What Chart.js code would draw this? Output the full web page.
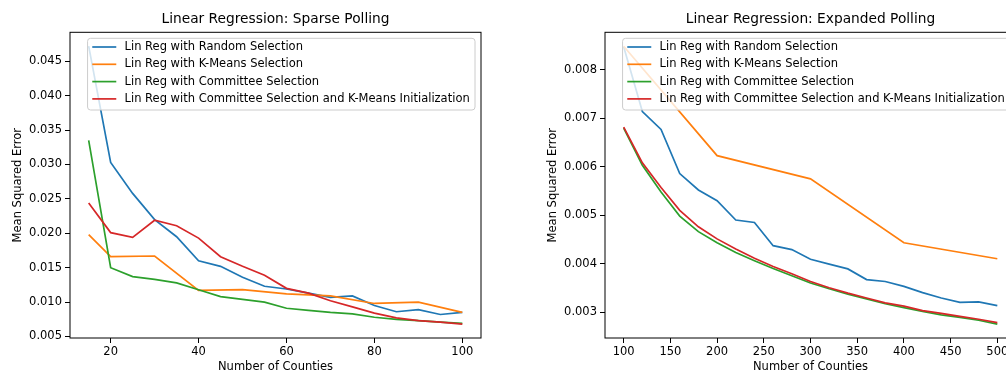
<!DOCTYPE html>
<html>
<head>
<meta charset="utf-8">
<script src="https://cdn.jsdelivr.net/npm/chart.js@4/dist/chart.umd.min.js"></script>
<style>
html, body { margin: 0; padding: 0; background: #fff; overflow: hidden; width: 1006px; height: 371px; }
canvas { position: absolute; top: 0; }
#sparse { left: 0; }
#expanded { left: 535px; }
</style>
</head>
<body>
<canvas id="sparse" width="490" height="380"></canvas>
<canvas id="expanded" width="490" height="380"></canvas>
<script>
/*
 * Data
 */

const seriesLabels = [
    "Lin Reg with Random Selection",
    "Lin Reg with K-Means Selection",
    "Lin Reg with Committee Selection",
    "Lin Reg with Committee Selection and K-Means Initialization"
]
const seriesColors = ["#1f77b4", "#ff7f0e", "#2ca02c", "#d62728"]

// sparse polling (left)
const sparseCounties = [15, 20, 25, 30, 35, 40, 45, 50, 55, 60, 65, 70, 75, 80, 85, 90, 95, 100]
const sparseKMeansCounties = [15, 20, 30, 40, 50, 60, 70, 80, 90, 100]
const sparseRandom = [0.0472, 0.0303, 0.0258, 0.0220, 0.0195, 0.0160, 0.0152, 0.0136, 0.0123, 0.0119, 0.0113, 0.0107, 0.0109, 0.0095, 0.0086, 0.0089, 0.0082, 0.0085]
const sparseKMeans = [0.0198, 0.0166, 0.0167, 0.0117, 0.0118, 0.0112, 0.0109, 0.0098, 0.0100, 0.0085]
const sparseCommittee = [0.0335, 0.0150, 0.0137, 0.0133, 0.0128, 0.0118, 0.0108, 0.0104, 0.0100, 0.0091, 0.0088, 0.0085, 0.0083, 0.0078, 0.0075, 0.0073, 0.0071, 0.0069]
const sparseCommitteeKM = [0.0244, 0.0201, 0.0194, 0.0219, 0.0211, 0.0193, 0.0166, 0.0152, 0.0139, 0.0120, 0.0113, 0.0102, 0.0093, 0.0084, 0.0077, 0.0073, 0.0071, 0.0068]

// expanded polling (right)
const expandedCounties = [100, 120, 140, 160, 180, 200, 220, 240, 260, 280, 300, 320, 340, 360, 380, 400, 420, 440, 460, 480, 500]
const expandedKMeansCounties = [100, 200, 300, 400, 500]
const expandedRandom = [0.00848, 0.00714, 0.00677, 0.00586, 0.00552, 0.00530, 0.00490, 0.00485, 0.00437, 0.00429, 0.00409, 0.00399, 0.00389, 0.00367, 0.00363, 0.00353, 0.00340, 0.00329, 0.00320, 0.00321, 0.00313]
const expandedKMeans = [0.00849, 0.00623, 0.00575, 0.00443, 0.00410]
const expandedCommittee = [0.00680, 0.00603, 0.00548, 0.00498, 0.00466, 0.00443, 0.00423, 0.00406, 0.00390, 0.00375, 0.00360, 0.00348, 0.00337, 0.00327, 0.00317, 0.00309, 0.00301, 0.00294, 0.00289, 0.00283, 0.00275]
const expandedCommitteeKM = [0.00682, 0.00608, 0.00557, 0.00510, 0.00476, 0.00451, 0.00430, 0.00411, 0.00394, 0.00379, 0.00363, 0.00350, 0.00339, 0.00329, 0.00319, 0.00312, 0.00303, 0.00297, 0.00291, 0.00285, 0.00278]

Chart.defaults.font.family = '"DejaVu Sans", sans-serif'
Chart.defaults.color = "#000"

/*
 * Helpers
 */

function points(xs, ys) {
    return xs.map((x, i) => ({ x: x, y: ys[i] }))
}

function line(i, xs, ys) {
    return {
        label: seriesLabels[i],
        data: points(xs, ys),
        borderColor: seriesColors[i],
        backgroundColor: seriesColors[i],
        borderWidth: 1.7,
        pointRadius: 0,
        tension: 0,
        fill: false,
        order: 4 - i
    }
}

// matplotlib style 5% margins around the data
function padded(values) {
    let lo = Math.min(...values), hi = Math.max(...values)
    let pad = (hi - lo) * 0.05
    return [lo - pad, hi + pad]
}

// black box around the plot area
const frame = {
    id: "frame",
    afterDatasetsDraw(chart) {
        const ctx = chart.ctx, a = chart.chartArea
        ctx.save()
        ctx.strokeStyle = "#000"
        ctx.lineWidth = 1
        ctx.strokeRect(a.left, a.top, a.width, a.height)
        ctx.restore()
    }
}

// legend inside the plot, upper right, like matplotlib
const boxLegend = {
    id: "boxLegend",
    afterDraw(chart) {
        const ctx = chart.ctx, a = chart.chartArea
        const sets = chart.data.datasets
        ctx.save()
        ctx.font = '11.5px "DejaVu Sans"'
        let textW = Math.max(...sets.map(d => ctx.measureText(d.label).width))
        let w = 5 + 24 + 8.3 + textW + 5, h = 71.7
        let x = a.right - 6 - w, y = a.top + 6
        ctx.beginPath()
        ctx.roundRect(x, y, w, h, 3)
        ctx.fillStyle = "rgba(255,255,255,0.8)"
        ctx.fill()
        ctx.strokeStyle = "#cccccc"
        ctx.lineWidth = 1
        ctx.stroke()
        sets.forEach((d, i) => {
            let ry = y + 8.7 + i * 17.3
            ctx.beginPath()
            ctx.moveTo(x + 4.7, ry)
            ctx.lineTo(x + 28.7, ry)
            ctx.strokeStyle = d.borderColor
            ctx.lineWidth = 1.7
            ctx.stroke()
            ctx.fillStyle = "#000"
            ctx.textBaseline = "middle"
            ctx.textAlign = "left"
            ctx.fillText(d.label, x + 37, ry)
        })
        ctx.restore()
    }
}

function makeOptions(title, xs, ys, xStep, yStep) {
    let xr = padded(xs), yr = padded(ys)
    return {
        responsive: false,
        animation: false,
        layout: { padding: { left: 0, right: 9, top: 0, bottom: 0 } },
        plugins: {
            legend: { display: false },
            tooltip: { enabled: false },
            title: {
                display: true,
                text: title,
                fullSize: false,
                color: "#000",
                font: { size: 13.75, weight: "normal" },
                padding: { top: 10.75, bottom: 5.05 }
            }
        },
        scales: {
            x: {
                type: "linear",
                min: xr[0],
                max: xr[1],
                afterFit: s => { s.height = 42 },
                border: { display: false },
                grid: { drawOnChartArea: false, drawTicks: true, tickLength: 5, color: "#000" },
                ticks: {
                    stepSize: xStep, includeBounds: false, autoSkip: false, maxRotation: 0,
                    padding: 2, color: "#000", font: { size: 11.5 },
                    callback: v => String(v)
                },
                title: {
                    display: true, text: "Number of Counties", color: "#000",
                    font: { size: 11.5 }, padding: { top: 0, bottom: 6.1 }
                }
            },
            y: {
                type: "linear",
                min: yr[0],
                max: yr[1],
                afterFit: s => { s.width = 70 },
                border: { display: false },
                grid: { drawOnChartArea: false, drawTicks: true, tickLength: 5, color: "#000" },
                ticks: {
                    stepSize: yStep, includeBounds: false, autoSkip: false,
                    padding: 3, color: "#000", font: { size: 11.5 },
                    callback: v => v.toFixed(3)
                },
                title: {
                    display: true, text: "Mean Squared Error", color: "#000",
                    font: { size: 11.5 }, padding: { top: 11, bottom: 0 }
                }
            }
        }
    }
}

/*
 * Chart on sparse polling
 */

let sparseConfig = {
    type: "line",
    data: {
        datasets: [
            line(0, sparseCounties, sparseRandom),
            line(1, sparseKMeansCounties, sparseKMeans),
            line(2, sparseCounties, sparseCommittee),
            line(3, sparseCounties, sparseCommitteeKM)
        ]
    },
    options: makeOptions("Linear Regression: Sparse Polling",
        sparseCounties,
        sparseRandom.concat(sparseKMeans, sparseCommittee, sparseCommitteeKM),
        20, 0.005),
    plugins: [frame, boxLegend]
}

var sparseChart = new Chart(document.getElementById("sparse"), sparseConfig)

/*
 * Chart on expanded polling
 */

let expandedConfig = {
    type: "line",
    data: {
        datasets: [
            line(0, expandedCounties, expandedRandom),
            line(1, expandedKMeansCounties, expandedKMeans),
            line(2, expandedCounties, expandedCommittee),
            line(3, expandedCounties, expandedCommitteeKM)
        ]
    },
    options: makeOptions("Linear Regression: Expanded Polling",
        expandedCounties,
        expandedRandom.concat(expandedKMeans, expandedCommittee, expandedCommitteeKM),
        50, 0.001),
    plugins: [frame, boxLegend]
}

var expandedChart = new Chart(document.getElementById("expanded"), expandedConfig)
</script>
</body>
</html>
